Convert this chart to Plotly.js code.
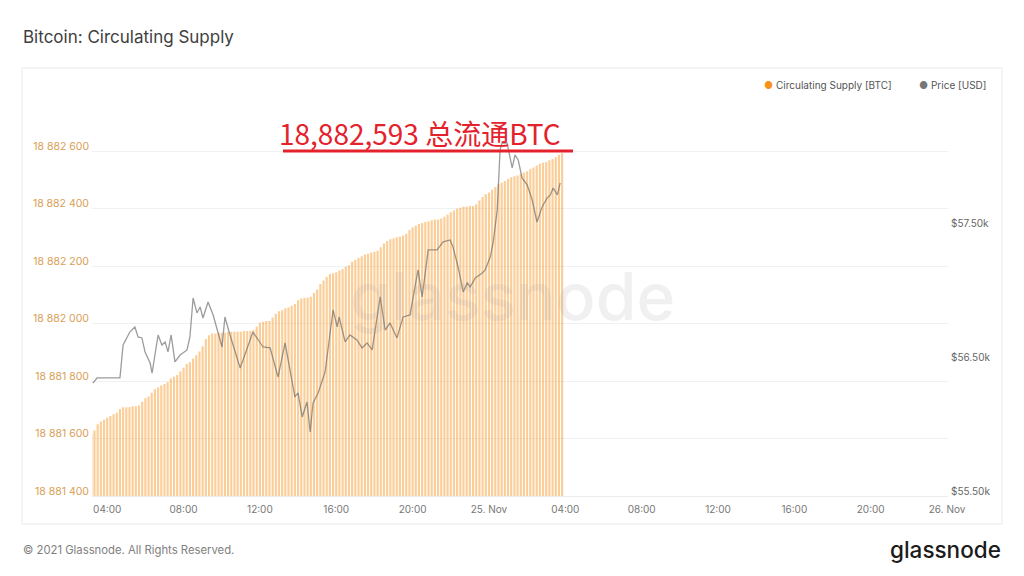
<!DOCTYPE html>
<html><head><meta charset="utf-8">
<script src="https://cdn.plot.ly/plotly-3.0.1.min.js"></script>
<style>html,body{margin:0;padding:0;background:#fff;overflow:hidden}#chart{width:1024px;height:576px}</style>
</head><body><div id="chart"></div>
<script>
// ---- data ----
const supplyStart = '2021-11-24T03:10:00Z';
const supplyStepMinutes = 10;
const supplyValues = [
18881615,18881628,18881650,18881659,18881665,18881672,18881678,18881684,18881690,18881703,
18881709,18881709,18881709,18881712,18881712,18881715,18881728,18881740,18881746,18881759,
18881771,18881778,18881784,18881790,18881796,18881809,18881815,18881821,18881834,18881846,
18881859,18881865,18881878,18881890,18881903,18881921,18881946,18881959,18881965,18881965,
18881968,18881968,18881968,18881971,18881971,18881971,18881971,18881971,18881974,18881974,
18881974,18881977,18881990,18882003,18882006,18882009,18882009,18882021,18882034,18882043,
18882046,18882053,18882056,18882062,18882068,18882081,18882087,18882090,18882090,18882093,
18882106,18882118,18882137,18882150,18882162,18882172,18882175,18882178,18882184,18882190,
18882197,18882203,18882215,18882222,18882228,18882234,18882240,18882243,18882247,18882250,
18882253,18882265,18882278,18882287,18882293,18882296,18882300,18882303,18882306,18882312,
18882325,18882334,18882340,18882346,18882350,18882353,18882356,18882359,18882362,18882362,
18882365,18882371,18882378,18882387,18882393,18882399,18882403,18882406,18882406,18882409,
18882409,18882415,18882428,18882440,18882450,18882456,18882465,18882475,18882484,18882490,
18882496,18882503,18882509,18882512,18882515,18882521,18882525,18882530,18882537,18882543,
18882550,18882556,18882559,18882562,18882568,18882572,18882578,18882587,18882593
];
const priceTimes = [
'2021-11-24 03:15','2021-11-24 03:28','2021-11-24 04:40','2021-11-24 04:50','2021-11-24 05:11',
'2021-11-24 05:27','2021-11-24 05:37','2021-11-24 05:49','2021-11-24 05:59','2021-11-24 06:15',
'2021-11-24 06:21','2021-11-24 06:40','2021-11-24 06:52','2021-11-24 07:02','2021-11-24 07:11',
'2021-11-24 07:21','2021-11-24 07:33','2021-11-24 07:49','2021-11-24 07:58','2021-11-24 08:11',
'2021-11-24 08:20','2021-11-24 08:30','2021-11-24 08:42','2021-11-24 08:52','2021-11-24 09:01',
'2021-11-24 09:17','2021-11-24 09:33','2021-11-24 10:01','2021-11-24 10:10','2021-11-24 10:26',
'2021-11-24 10:58','2021-11-24 11:38','2021-11-24 12:10','2021-11-24 12:32','2021-11-24 12:57',
'2021-11-24 13:19','2021-11-24 13:50','2021-11-24 14:00','2021-11-24 14:13','2021-11-24 14:28',
'2021-11-24 14:38','2021-11-24 14:47','2021-11-24 15:03','2021-11-24 15:25','2021-11-24 15:50',
'2021-11-24 16:03','2021-11-24 16:09','2021-11-24 16:28','2021-11-24 16:43','2021-11-24 17:05',
'2021-11-24 17:21','2021-11-24 17:37','2021-11-24 17:53','2021-11-24 18:18','2021-11-24 18:34',
'2021-11-24 18:49','2021-11-24 19:11','2021-11-24 19:30','2021-11-24 19:52','2021-11-24 20:17',
'2021-11-24 20:30','2021-11-24 20:49','2021-11-24 21:17','2021-11-24 21:36','2021-11-24 21:58',
'2021-11-24 22:07','2021-11-24 22:23','2021-11-24 22:39','2021-11-24 22:52','2021-11-24 23:01',
'2021-11-24 23:17','2021-11-24 23:39','2021-11-24 23:48','2021-11-25 00:04','2021-11-25 00:13',
'2021-11-25 00:26','2021-11-25 00:35','2021-11-25 00:41','2021-11-25 00:57','2021-11-25 01:13',
'2021-11-25 01:22','2021-11-25 01:32','2021-11-25 01:44','2021-11-25 02:00','2021-11-25 02:16',
'2021-11-25 02:31','2021-11-25 02:47','2021-11-25 03:03','2021-11-25 03:13','2021-11-25 03:22',
'2021-11-25 03:35','2021-11-25 03:44'
];
const priceValues = [
56346,56384,56384,56631,56728,
56766,56691,56684,56579,56496,
56421,56706,56631,56654,56579,
56706,56504,56556,56571,56594,
56691,56983,56871,56916,56833,
56953,56856,56616,56841,56706,
56459,56728,56616,56609,56391,
56646,56242,56272,56092,56204,
55979,56197,56272,56429,56893,
56766,56841,56654,56706,56669,
56609,56646,56594,56991,56743,
56796,56684,56841,56856,57193,
56991,57343,57343,57403,57418,
57365,57215,57028,57096,57066,
57133,57170,57193,57290,57395,
57642,58092,58144,58144,57957,
58054,58017,57882,57830,57717,
57552,57665,57732,57755,57807,
57755,57845
];
const xTickVals = ['2021-11-24 04:00','2021-11-24 08:00','2021-11-24 12:00','2021-11-24 16:00','2021-11-24 20:00','2021-11-25 00:00',
                   '2021-11-25 04:00','2021-11-25 08:00','2021-11-25 12:00','2021-11-25 16:00','2021-11-25 20:00','2021-11-26 00:00'];
const xTickText = ['04:00','08:00','12:00','16:00','20:00','25. Nov','04:00','08:00','12:00','16:00','20:00','26. Nov'];
const supplyTickVals = [18881400,18881600,18881800,18882000,18882200,18882400,18882600];
const priceTickVals = [55500,56500,57500];
const priceTickText = ['$55.50k','$56.50k','$57.50k'];
const supplyName = 'Circulating Supply [BTC]';
const priceName = 'Price [USD]';
const chartTitle = 'Bitcoin: Circulating Supply';
const noteText = '18,882,593 总流通BTC';
const footerText = '© 2021 Glassnode. All Rights Reserved.';
const logoText = 'glassnode';

// ---- build ----
function pad(n){return String(n).padStart(2,'0');}
const t0 = Date.parse(supplyStart);
const supplyTimes = supplyValues.map((_, i) => {
  const d = new Date(t0 + i * supplyStepMinutes * 60000);
  return d.getUTCFullYear()+'-'+pad(d.getUTCMonth()+1)+'-'+pad(d.getUTCDate())+' '+pad(d.getUTCHours())+':'+pad(d.getUTCMinutes());
});

const W = 1024, H = 576, ML = 92, MR = 76, MT = 100, MB = 80;
const PW = W - ML - MR, PH = H - MT - MB;
const px = x => (x - ML) / PW;
const py = y => (H - MB - y) / PH;

const traces = [
  {type:'bar', x:supplyTimes, y:supplyValues, name:supplyName, yaxis:'y',
   marker:{color:'rgba(247,147,26,0.45)', line:{width:0}}, hoverinfo:'x+y', showlegend:false},
  {type:'scatter', mode:'lines', x:priceTimes, y:priceValues, name:priceName, yaxis:'y2',
   line:{color:'rgba(95,95,95,0.62)', width:1.3}, showlegend:false}
];

const tickFont = {family:'Inter, "Open Sans", sans-serif', size:10};
const layout = {
  width:W, height:H, margin:{l:ML, r:MR, t:MT, b:MB},
  paper_bgcolor:'#fff', plot_bgcolor:'rgba(0,0,0,0)',
  separators:'. ', bargap:0.32, showlegend:false,
  xaxis:{type:'date', range:['2021-11-24 03:12:12','2021-11-26 00:03'],
    tickvals:xTickVals, ticktext:xTickText, ticks:'', showgrid:false, zeroline:false,
    showline:true, linecolor:'#ececec', linewidth:1, tickfont:Object.assign({color:'#777'}, tickFont),
    ticklabelstandoff:4},
  yaxis:{range:[18881400, 18882777.4], tickvals:supplyTickVals, tickformat:',d', ticks:'',
    showgrid:true, gridcolor:'#f1f1f1', gridwidth:1, zeroline:false, showline:false,
    tickfont:{family:'Inter, "Open Sans", sans-serif', size:10.5, color:'#d9a055'}, ticklabelshift:-5, ticklabelstandoff:2},
  yaxis2:{overlaying:'y', side:'right', range:[55500, 58466], tickvals:priceTickVals, ticktext:priceTickText,
    ticks:'', showgrid:false, zeroline:false, showline:false,
    tickfont:Object.assign({color:'#666'}, tickFont), ticklabelshift:-5, ticklabelstandoff:2},
  shapes:[
    {type:'rect', xref:'paper', yref:'paper', x0:px(22), x1:px(1002), y0:py(524), y1:py(68),
     line:{color:'#e9e9e9', width:1}, fillcolor:'rgba(0,0,0,0)', layer:'below'},
    {type:'line', xref:'paper', yref:'paper', x0:px(283), x1:px(573), y0:py(151), y1:py(151),
     line:{color:'#e4222c', width:3}}
  ],
  annotations:[
    {xref:'paper', yref:'paper', x:px(512), y:py(296), text:logoText, showarrow:false,
     font:{family:'Inter, sans-serif', size:66, color:'rgba(170,160,160,0.16)', weight:500}},
    {xref:'paper', yref:'paper', x:px(21), y:py(37), xanchor:'left', yanchor:'middle', text:chartTitle, showarrow:false,
     font:{family:'Inter, sans-serif', size:17, color:'#3e3e3e', weight:400}},
    {xref:'paper', yref:'paper', x:px(762), y:py(85), xanchor:'left', yanchor:'middle', showarrow:false,
     text:'<span style="color:#f7931a">●</span> ' + supplyName,
     font:{family:'Inter, sans-serif', size:10, color:'#555'}},
    {xref:'paper', yref:'paper', x:px(917), y:py(85), xanchor:'left', yanchor:'middle', showarrow:false,
     text:'<span style="color:#777">●</span> ' + priceName,
     font:{family:'Inter, sans-serif', size:10, color:'#555'}},
    {xref:'paper', yref:'paper', x:px(420), y:py(133), xanchor:'center', yanchor:'middle', showarrow:false,
     text:noteText, font:{family:'"Noto Sans CJK SC", sans-serif', size:28, color:'#e4222c'}},
    {xref:'paper', yref:'paper', x:px(21), y:py(550), xanchor:'left', yanchor:'middle', showarrow:false,
     text:footerText, font:{family:'Inter, sans-serif', size:11.3, color:'#808080'}},
    {xref:'paper', yref:'paper', x:px(1003), y:py(549), xanchor:'right', yanchor:'middle', showarrow:false,
     text:logoText, font:{family:'Inter, sans-serif', size:22.5, color:'#1b1b1b', weight:500}}
  ]
};
Plotly.newPlot('chart', traces, layout, {staticPlot:true, displayModeBar:false});
</script></body></html>
